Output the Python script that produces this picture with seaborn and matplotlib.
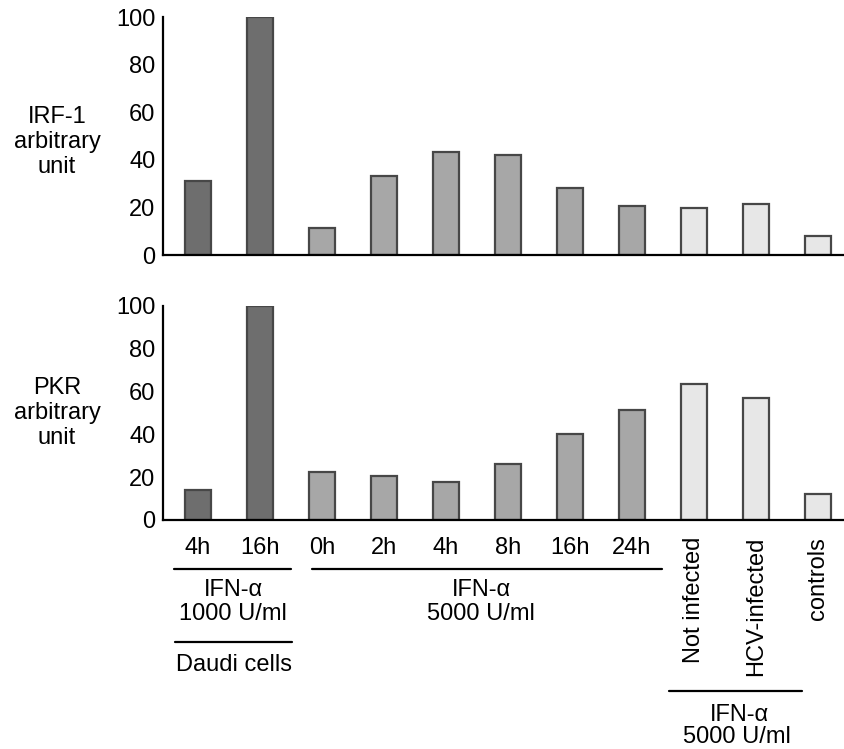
import matplotlib
matplotlib.use("Agg")
import matplotlib.pyplot as plt
from matplotlib.lines import Line2D
import seaborn as sns
import pandas as pd

# ---- data ----
cond_ids = ["D4h", "D16h", "0h", "2h", "4h", "8h", "16h", "24h", "NotInf", "HCV", "ctrl"]
tick_labels = ["4h", "16h", "0h", "2h", "4h", "8h", "16h", "24h",
               "Not infected", "HCV-infected", "controls"]
groups = ["Daudi", "Daudi", "IFN", "IFN", "IFN", "IFN", "IFN", "IFN",
          "Patient", "Patient", "Patient"]
irf1_values = [31, 100, 11.5, 33, 43.4, 42, 28, 20.4, 19.9, 21.3, 8]
pkr_values = [14, 100, 22.2, 20.4, 17.9, 26.4, 40.3, 51.3, 63.5, 57.2, 12]
yticks = [0, 20, 40, 60, 80, 100]

palette = {"Daudi": "#6e6e6e", "IFN": "#a7a7a7", "Patient": "#e7e7e7"}

df = pd.DataFrame({"cond": cond_ids, "group": groups,
                   "IRF-1": irf1_values, "PKR": pkr_values})

sns.set_style("white")
plt.rcParams["font.family"] = ["Liberation Sans", "DejaVu Sans"]
plt.rcParams["text.color"] = "black"
plt.rcParams["xtick.color"] = "black"
plt.rcParams["ytick.color"] = "black"
plt.rcParams["axes.labelcolor"] = "black"

W, H = 844, 749
fig = plt.figure(figsize=(W / 100, H / 100), dpi=100)

def fx(px):
    return px / W

def fy(py):
    return 1 - py / H

x_left_px, x_right_px = 163, 844
cat_px = 62.0
xlim_lo = -0.5 - (167 - x_left_px) / cat_px
xlim_hi = xlim_lo + (x_right_px - x_left_px) / cat_px

ax_top = fig.add_axes([fx(x_left_px), fy(255), fx(x_right_px - x_left_px), (255 - 17) / H])
ax_bot = fig.add_axes([fx(x_left_px), fy(520), fx(x_right_px - x_left_px), (520 - 306) / H])

TXT = 17

for ax, col in [(ax_top, "IRF-1"), (ax_bot, "PKR")]:
    sns.barplot(data=df, x="cond", y=col, hue="group", palette=palette,
                dodge=False, width=0.42, edgecolor="#474747", linewidth=1.6,
                legend=False, ax=ax, order=cond_ids)
    ax.set_xlim(xlim_lo, xlim_hi)
    ax.set_ylim(0, 100)
    ax.set_yticks(yticks)
    ax.set_yticklabels([str(v) for v in yticks], fontsize=17, color="black")
    ax.set_xlabel("")
    ax.set_ylabel("")
    for s in ["top", "right"]:
        ax.spines[s].set_visible(False)
    for s in ["left", "bottom"]:
        ax.spines[s].set_color("black")
        ax.spines[s].set_linewidth(1.6)
    ax.tick_params(axis="y", direction="out", length=4, width=1.4, pad=1.5, colors="black")
    ax.set_xticks([i + 0.5 for i in range(10)], minor=True)
    ax.tick_params(axis="x", which="minor", direction="out", length=6, width=1.4, color="black")
    ax.set_xticks(range(len(cond_ids)))
    ax.tick_params(axis="x", which="major", length=0)
    ax.set_facecolor("white")

ax_top.set_xticklabels([""] * len(cond_ids))
ax_bot.set_xticklabels(tick_labels, fontsize=TXT, color="black")
ax_bot.tick_params(axis="x", which="major", pad=12)
for lbl in ax_bot.get_xticklabels()[8:]:
    lbl.set_rotation(90)
    lbl.set_fontsize(TXT)
    lbl.set_va("top")

# y-axis labels
fig.text(fx(57), fy(142), "IRF-1\narbitrary\nunit", ha="center", va="center",
         fontsize=TXT, linespacing=1.2)
fig.text(fx(57), fy(413), "PKR\narbitrary\nunit", ha="center", va="center",
         fontsize=TXT, linespacing=1.2)

# group annotations
def hline(x0, x1, y):
    fig.add_artist(Line2D([fx(x0), fx(x1)], [fy(y), fy(y)], color="black", lw=1.6))

hline(174, 291, 569)
hline(312, 662, 569)
hline(175, 292, 642)
hline(669, 802, 691)

fig.text(fx(233), fy(590), "IFN-\u03b1", ha="center", va="center", fontsize=TXT)
fig.text(fx(233), fy(614), "1000 U/ml", ha="center", va="center", fontsize=TXT)
fig.text(fx(234), fy(665), "Daudi cells", ha="center", va="center", fontsize=TXT)
fig.text(fx(481), fy(590), "IFN-\u03b1", ha="center", va="center", fontsize=TXT)
fig.text(fx(481), fy(614), "5000 U/ml", ha="center", va="center", fontsize=TXT)
fig.text(fx(739), fy(715), "IFN-\u03b1", ha="center", va="center", fontsize=TXT)
fig.text(fx(737), fy(737), "5000 U/ml", ha="center", va="center", fontsize=TXT)

fig.savefig("out.png", dpi=100, facecolor="white")
